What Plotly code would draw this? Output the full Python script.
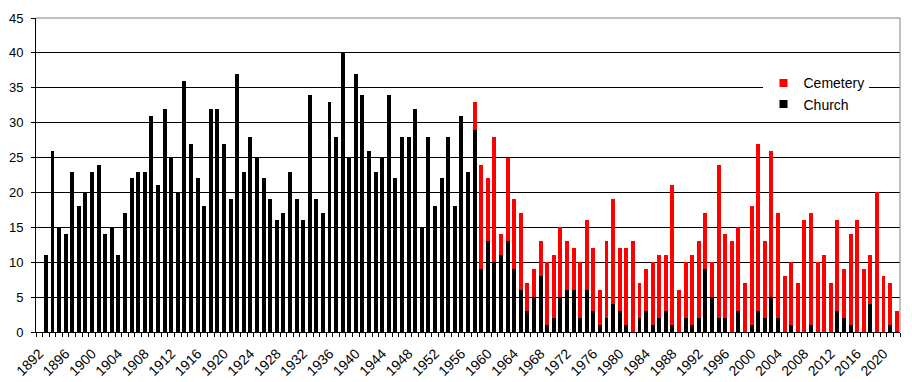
import plotly.graph_objects as go

years = list(range(1892, 2023))

church = [
    0, 11, 26, 15, 14, 23, 18, 20, 23, 24,   # 1892-1901
    14, 15, 11, 17, 22, 23, 23, 31, 21, 32,  # 1902-1911
    25, 20, 36, 27, 22, 18, 32, 32, 27, 19,  # 1912-1921
    37, 23, 28, 25, 22, 19, 16, 17, 23, 19,  # 1922-1931
    16, 34, 19, 17, 33, 28, 40, 25, 37, 34,  # 1932-1941
    26, 23, 25, 34, 22, 28, 28, 32, 15, 28,  # 1942-1951
    18, 22, 28, 18, 31, 23, 29, 9, 13, 10,   # 1952-1961
    11, 13, 9, 6, 3, 5, 8, 1, 2, 5,          # 1962-1971
    6, 6, 2, 6, 3, 1, 2, 4, 3, 1,            # 1972-1981
    0, 2, 3, 1, 2, 3, 1, 0, 2, 1,            # 1982-1991
    2, 9, 5, 2, 2, 0, 3, 0, 1, 3,            # 1992-2001
    2, 5, 2, 0, 1, 0, 0, 1, 0, 0,            # 2002-2011
    0, 3, 2, 1, 0, 0, 4, 0, 0, 1,            # 2012-2021
    0,                                        # 2022
]

cemetery = [
    0, 0, 0, 0, 0, 0, 0, 0, 0, 0,            # 1892-1901
    0, 0, 0, 0, 0, 0, 0, 0, 0, 0,            # 1902-1911
    0, 0, 0, 0, 0, 0, 0, 0, 0, 0,            # 1912-1921
    0, 0, 0, 0, 0, 0, 0, 0, 0, 0,            # 1922-1931
    0, 0, 0, 0, 0, 0, 0, 0, 0, 0,            # 1932-1941
    0, 0, 0, 0, 0, 0, 0, 0, 0, 0,            # 1942-1951
    0, 0, 0, 0, 0, 0, 4, 15, 9, 18,          # 1952-1961
    3, 12, 10, 11, 4, 4, 5, 9, 9, 10,        # 1962-1971
    7, 6, 8, 10, 9, 5, 11, 15, 9, 11,        # 1972-1981
    13, 5, 6, 9, 9, 8, 20, 6, 8, 10,         # 1982-1991
    11, 8, 5, 22, 12, 13, 12, 7, 17, 24,     # 1992-2001
    11, 21, 15, 8, 9, 7, 16, 16, 10, 11,     # 2002-2011
    7, 13, 7, 13, 16, 9, 7, 20, 8, 6,        # 2012-2021
    3,                                        # 2022
]

tick_years = list(range(1892, 2021, 4))
tick_labels = [str(y) for y in tick_years]
y_ticks = list(range(0, 46, 5))

FONT = "Liberation Sans, Arial, sans-serif"

fig = go.Figure()
fig.add_trace(go.Bar(x=years, y=church, name="Church",
                     marker=dict(color="#000000", line=dict(width=0)),
                     showlegend=False))
fig.add_trace(go.Bar(x=years, y=cemetery, name="Cemetery",
                     marker=dict(color="#FF0000", line=dict(width=0)),
                     showlegend=False))
# legend entries (small square swatches)
fig.add_trace(go.Scatter(x=[None], y=[None], mode="markers", name="Cemetery",
                         marker=dict(symbol="square", size=8, color="#FF0000")))
fig.add_trace(go.Scatter(x=[None], y=[None], mode="markers", name="Church",
                         marker=dict(symbol="square", size=8, color="#000000")))

fig.update_layout(
    width=912, height=382,
    margin=dict(l=36, r=12, t=18, b=50, autoexpand=False),
    paper_bgcolor="white", plot_bgcolor="white",
    font=dict(family=FONT, size=13, color="black"),
    barmode="stack", bargap=0.4,
    legend=dict(x=0.842, y=0.843, xanchor="left", yanchor="top",
                bgcolor="white", borderwidth=0, traceorder="normal",
                font=dict(size=14), itemwidth=30, itemsizing="trace"),
    xaxis=dict(range=[1891.5, 2022.5], tickmode="array",
               tickvals=tick_years, ticktext=tick_labels, tickangle=-45,
               ticks="outside", ticklen=4, tickcolor="rgba(0,0,0,0)",
               ticklabelstandoff=3,
               minor=dict(ticks="outside", dtick=1, tick0=1891.5,
                          ticklen=4, tickcolor="black", showgrid=False),
               showline=True, linecolor="black", linewidth=1,
               showgrid=False, zeroline=False, automargin=False,
               tickfont=dict(family=FONT, size=14, color="black")),
    yaxis=dict(range=[0, 45], tickmode="array", tickvals=y_ticks,
               showgrid=True, gridcolor="black", gridwidth=1,
               showline=True, linecolor="black", linewidth=1,
               ticks="outside", ticklen=4, tickcolor="black",
               ticklabelstandoff=5, automargin=False,
               zeroline=False, tickfont=dict(size=13)),
    shapes=[
        dict(type="line", xref="paper", yref="paper", x0=0, x1=1, y0=1, y1=1,
             line=dict(color="#808080", width=1), layer="above"),
        dict(type="line", xref="paper", yref="paper", x0=1, x1=1, y0=0, y1=1,
             line=dict(color="#808080", width=1), layer="above"),
    ],
)

fig.write_html("out.html")
